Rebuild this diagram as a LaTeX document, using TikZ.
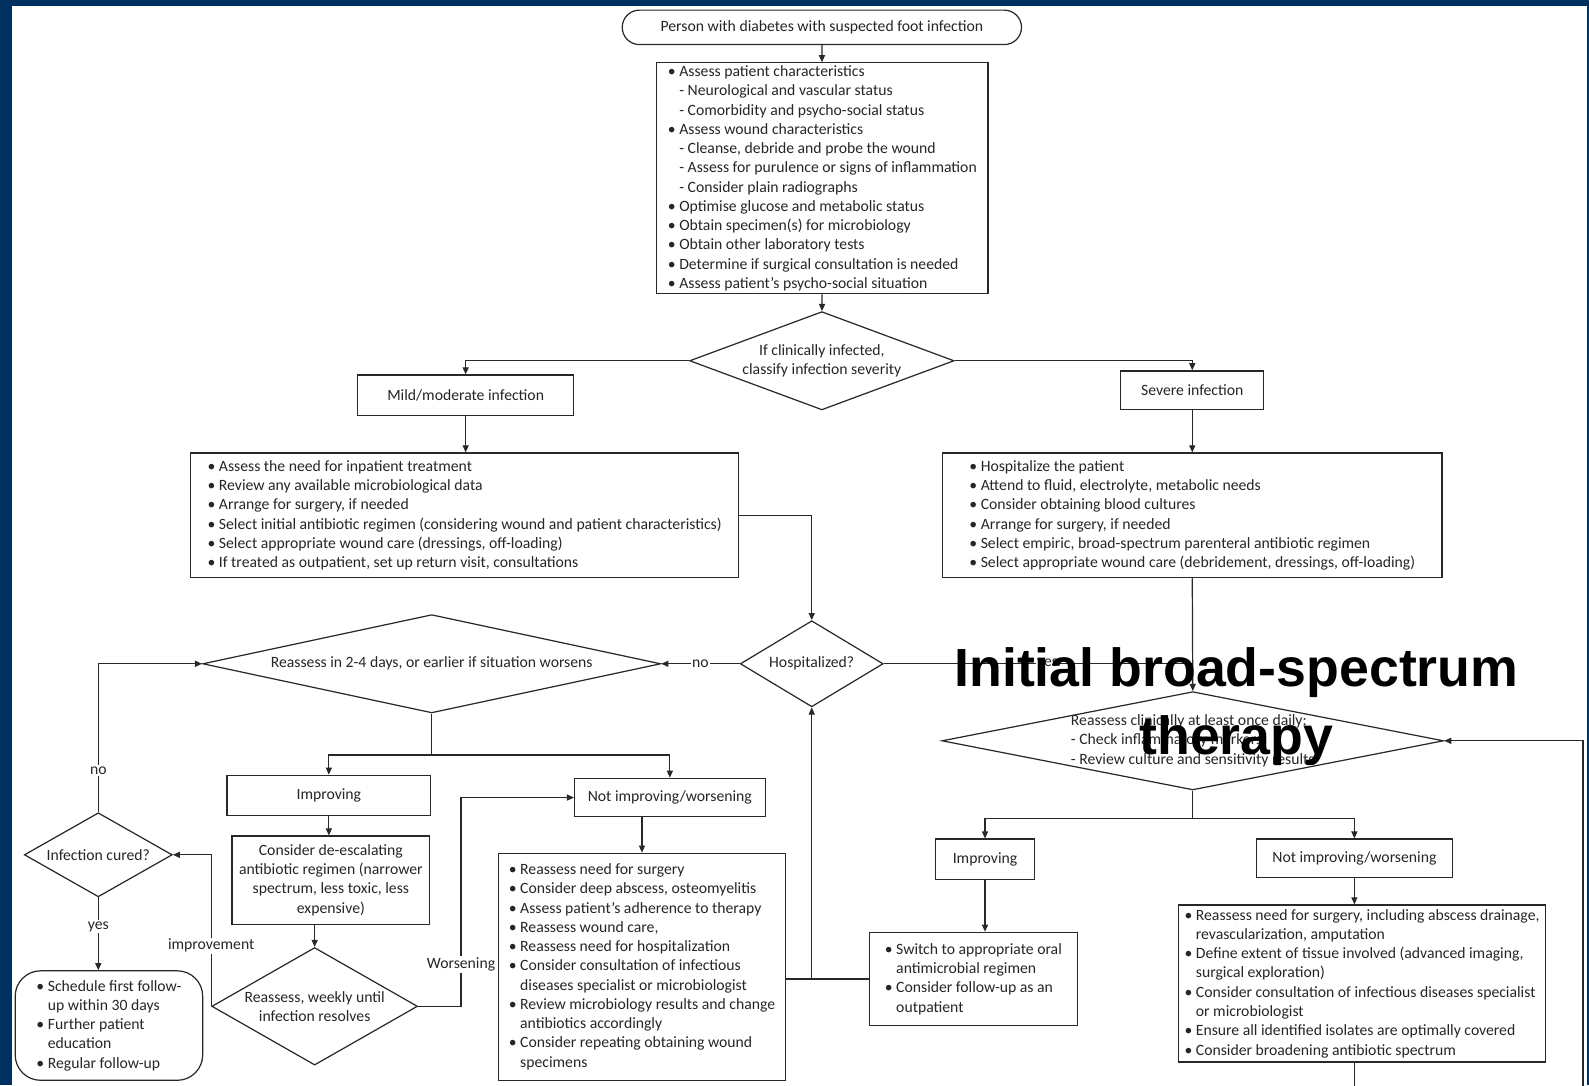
\documentclass[tikz,border=0pt]{standalone}
\usepackage{fontspec}
\setmainfont{Carlito}
\newfontfamily\titlefont{Liberation Sans}
\usetikzlibrary{arrows.meta}
\usetikzlibrary{shapes.geometric}

\definecolor{navy}{RGB}{0,48,96}
\definecolor{ink}{RGB}{40,40,40}

\newcommand{\bitem}{\textbullet\ }
\newcommand{\bcont}{\hphantom{\textbullet\ }}

\begin{document}
\begin{tikzpicture}[ x=1pt, y=-1pt,
	font=\fontsize{15.5}{19}\selectfont, text=black!85,
	box/.style 2 args={ draw=ink, line width=1.2pt, fill=white, minimum width=#1, minimum height=#2, inner sep=0pt, align=center },
	list/.style 2 args={ box={#1}{#2}, align=left },
	dec/.style 2 args={ diamond, draw=ink, line width=1.2pt, fill=white, inner sep=0pt, minimum width=#1, minimum height=#2 },
	link/.style={ draw=ink, line width=1.2pt },
	arr/.style={ -{Triangle[length=7pt, width=6pt]} },
	lbl/.style={ fill=white, inner sep=1.5pt }
]

	\fill[ navy ] (0,0) rectangle (1568,1071);
	\fill[ white ] (12,6) rectangle (1566,1071);
	\useasboundingbox (0,0) rectangle (1568,1071);

	\node[ box={394}{34}, rounded corners=17pt ] (person) at (811,27) {Person with diabetes with suspected foot infection};

	\node[ list={327}{228} ] (assess) at (811.5,176) {\bitem Assess patient characteristics\\
		\bcont - Neurological and vascular status\\
		\bcont - Comorbidity and psycho-social status\\
		\bitem Assess wound characteristics\\
		\bcont - Cleanse, debride and probe the wound\\
		\bcont - Assess for purulence or signs of inflammation\\
		\bcont - Consider plain radiographs\\
		\bitem Optimise glucose and metabolic status\\
		\bitem Obtain specimen(s) for microbiology\\
		\bitem Obtain other laboratory tests\\
		\bitem Determine if surgical consultation is needed\\
		\bitem Assess patient's psycho-social situation};

	\node[ dec={261}{97}, label={[align=center]center:{If clinically infected,\\classify infection severity}} ] (classify) at (811,356) {};

	\node[ box={213}{40} ] (mild) at (459.5,390) {Mild/moderate infection};
	\node[ box={141}{38} ] (severe) at (1176.5,385) {Severe infection};

	\node[ list={541}{123} ] (mildlist) at (458.5,508.5) {\bitem Assess the need for inpatient treatment\\
		\bitem Review any available microbiological data\\
		\bitem Arrange for surgery, if needed\\
		\bitem Select initial antibiotic regimen (considering wound and patient characteristics)\\
		\bitem Select appropriate wound care (dressings, off-loading)\\
		\bitem If treated as outpatient, set up return visit, consultations};

	\node[ list={493}{123} ] (severelist) at (1176.5,508.5) {\bitem Hospitalize the patient\\
		\bitem Attend to fluid, electrolyte, metabolic needs\\
		\bitem Consider obtaining blood cultures\\
		\bitem Arrange for surgery, if needed\\
		\bitem Select empiric, broad-spectrum parenteral antibiotic regimen\\
		\bitem Select appropriate wound care (debridement, dressings, off-loading)};

	\node[ dec={141}{85}, label={center:Hospitalized?} ] (hosp) at (801,655) {};
	\node[ dec={452}{97}, label={center:{Reassess in 2-4 days, or earlier if situation worsens}} ] (reass) at (426,655) {};
	\node[ dec={495}{97}, label={[align=left]center:{Reassess clinically at least once daily:\\- Check inflammatory markers\\- Review culture and sensitivity results}} ] (daily) at (1177,731) {};

	\node[ box={201}{40} ] (impL) at (324.5,785) {Improving};
	\node[ box={188}{38} ] (notL) at (661,787) {Not improving/worsening};
	\node[ box={195}{87} ] (deesc) at (326.5,868.5) {Consider de-escalating\\antibiotic regimen (narrower\\spectrum, less toxic, less\\expensive)};
	\node[ dec={203}{116}, label={[align=center]center:{Reassess, weekly until\\infection resolves}} ] (weekly) at (310.5,993) {};
	\node[ dec={146}{83}, label={center:Infection cured?} ] (cured) at (97,843.5) {};

	\node[ list={185}{108}, rounded corners=25pt ] (follow) at (107.5,1012) {\bitem Schedule first follow-\\
		\bcont up within 30 days\\
		\bitem Further patient\\
		\bcont education\\
		\bitem Regular follow-up};

	\node[ list={283}{224} ] (notLlist) at (633.5,954) {\bitem Reassess need for surgery\\
		\bitem Consider deep abscess, osteomyelitis\\
		\bitem Assess patient's adherence to therapy\\
		\bitem Reassess wound care,\\
		\bitem Reassess need for hospitalization\\
		\bitem Consider consultation of infectious\\
		\bcont diseases specialist or microbiologist\\
		\bitem Review microbiology results and change\\
		\bcont antibiotics accordingly\\
		\bitem Consider repeating obtaining wound\\
		\bcont specimens};

	\node[ box={98}{40} ] (impR) at (972,848) {Improving};
	\node[ box={193}{38} ] (notR) at (1336.5,847) {Not improving/worsening};

	\node[ list={205}{92} ] (switch) at (960.5,966) {\bitem Switch to appropriate oral\\
		\bcont antimicrobial regimen\\
		\bitem Consider follow-up as an\\
		\bcont outpatient};

	\node[ list={362}{155} ] (notRlist) at (1344,970.5) {\bitem Reassess need for surgery, including abscess drainage,\\
		\bcont revascularization, amputation\\
		\bitem Define extent of tissue involved (advanced imaging,\\
		\bcont surgical exploration)\\
		\bitem Consider consultation of infectious diseases specialist\\
		\bcont or microbiologist\\
		\bitem Ensure all identified isolates are optimally covered\\
		\bitem Consider broadening antibiotic spectrum};

	\coordinate (splitL) at (426,745);
	\coordinate (splitR) at (1177,808);
	\coordinate (wturn) at (455,993);
	\coordinate (loopR) at (1562,1074);

	\draw[ link, arr ] (person) -- (assess);
	\draw[ link, arr ] (assess) -- (classify);
	\draw[ link, arr ] (classify.west) -| (mild.north);
	\draw[ link, arr ] (classify.east) -| (severe.north);
	\draw[ link, arr ] (mild.south) -- (mild.south |- mildlist.north);
	\draw[ link, arr ] (severe) -- (severelist);
	\draw[ link, arr ] (mildlist.east) -| (hosp.north);
	\draw[ link, arr ] (hosp.west) -- (reass.east) node[ lbl, midway ] {no};
	\draw[ link, arr ] (severelist.south) -- (daily.north);
	\draw[ link ] (hosp.east) -- (hosp.east -| daily.north) node[ lbl, pos=0.53 ] {yes};

	\draw[ link ] (daily.south) -- (splitR);
	\draw[ link, arr ] (splitR) -| (impR.north);
	\draw[ link, arr ] (splitR) -| (notR.north);
	\draw[ link, arr ] (impR.south) -- (impR.south |- switch.north);
	\draw[ link, arr ] (notR) -- (notR.south |- notRlist.north);
	\draw[ link, arr ] (notR.south |- notRlist.south) |- (loopR) |- (daily.east);
	\draw[ link ] (switch.west) -- (switch.west -| notLlist.east);
	\draw[ link, arr ] (switch.west -| hosp.south) -- (hosp.south);

	\draw[ link ] (reass.south) -- (splitL);
	\draw[ link, arr ] (splitL) -| (impL.north);
	\draw[ link, arr ] (splitL) -| (notL.north);
	\draw[ link, arr ] (impL) -- (impL.south |- deesc.north);
	\draw[ link, arr ] (weekly.north |- deesc.south) -- (weekly.north);
	\draw[ link, arr ] (weekly.west) |- (cured.east) node[ lbl, pos=0.2 ] {improvement};
	\draw[ link, arr ] (weekly.east) -- (wturn) |- (notL.west) node[ lbl, pos=0.1 ] {Worsening};
	\draw[ link, arr ] (notLlist.north |- notL.south) -- (notLlist.north);
	\draw[ link, arr ] (cured.north) |- (reass.west) node[ lbl, pos=0.14 ] {no};
	\draw[ link, arr ] (cured.south) -- (cured.south |- follow.north) node[ lbl, pos=0.4 ] {yes};

	\node[ font=\titlefont\bfseries\fontsize{53}{67}\selectfont, text=black, align=center ] (banner) at (1220,697) {Initial broad-spectrum\\therapy};

\end{tikzpicture}
\end{document}
